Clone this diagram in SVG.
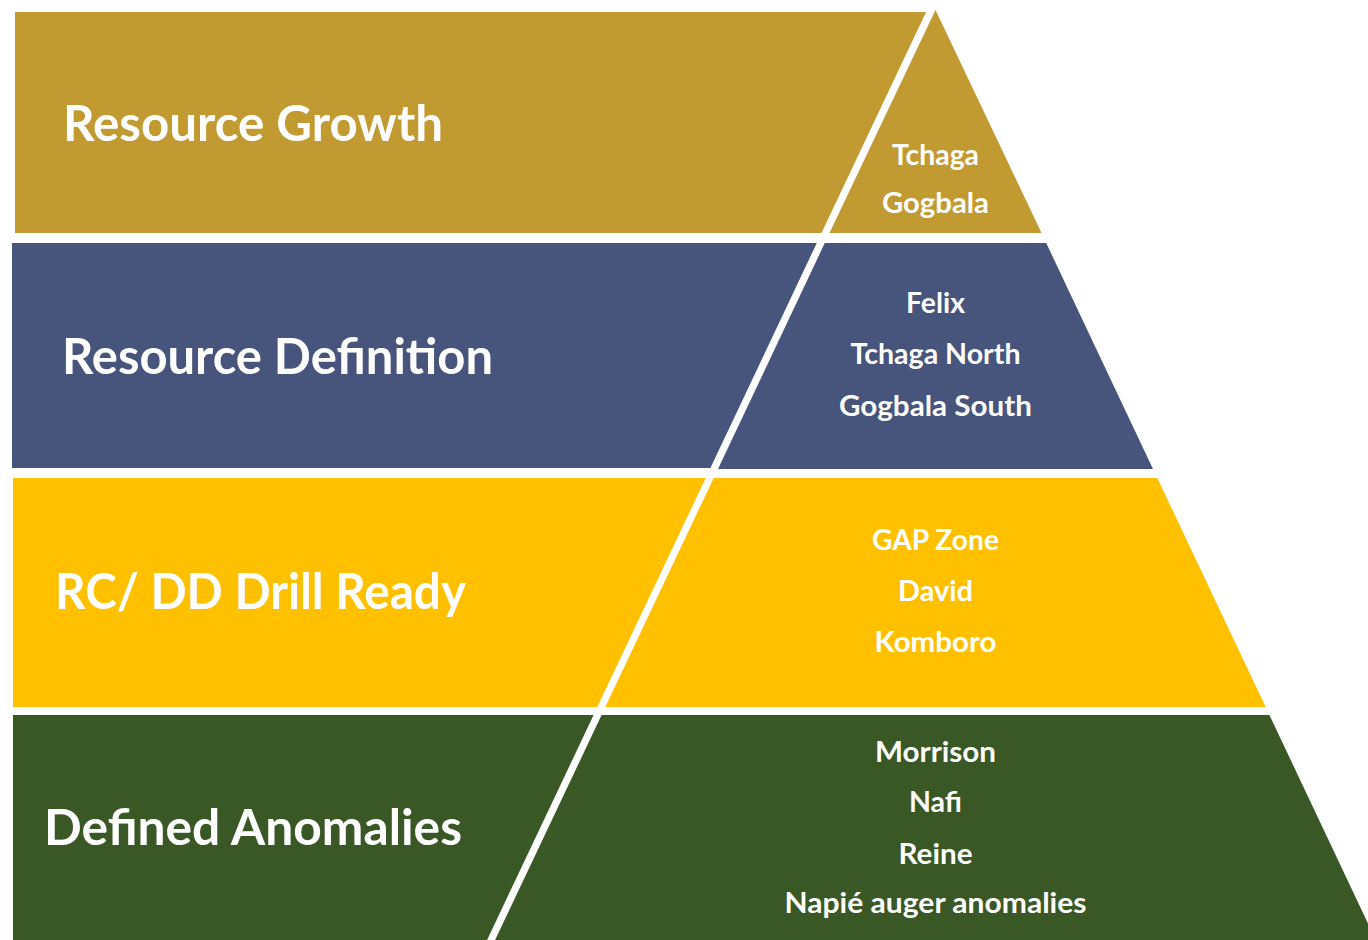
<svg xmlns="http://www.w3.org/2000/svg" width="1368" height="940" viewBox="0 0 1368 940">
  <style>
    .title { font-family: Lato, "Open Sans", "Liberation Sans", sans-serif; font-weight: 700; font-size: 50px; fill: #ffffff; }
    .item { font-family: Lato, "Open Sans", "Liberation Sans", sans-serif; font-weight: 700; font-size: 28px; fill: #ffffff; text-anchor: middle; }
    .gold { fill: #C29A32; }
    .blue { fill: #47547B; }
    .amber { fill: #FFC000; }
    .green { fill: #3A5726; }
  </style>
  <rect width="1368" height="940" fill="#ffffff"/>

  <!-- Tier 1: Resource Growth -->
  <g id="tier-resource-growth">
    <polygon class="gold" points="15,12 926.1,12 821.5,233 15,233"/>
    <polygon class="gold" points="935.5,10 1041.5,233 829.5,233"/>
    <text class="title" x="63" y="141" textLength="380" lengthAdjust="spacingAndGlyphs">Resource Growth</text>
    <text class="item" x="935.5" y="165" textLength="87" lengthAdjust="spacingAndGlyphs">Tchaga</text>
    <text class="item" x="935.5" y="213" textLength="107" lengthAdjust="spacingAndGlyphs">Gogbala</text>
  </g>

  <!-- Tier 2: Resource Definition -->
  <g id="tier-resource-definition">
    <polygon class="blue" points="12,243 816.8,243 710.4,468 12,468"/>
    <polygon class="blue" points="824.8,243 1046.2,243 1153,469 718,469"/>
    <text class="title" x="62" y="374" textLength="431" lengthAdjust="spacingAndGlyphs">Resource Definition</text>
    <text class="item" x="935.5" y="313" textLength="59" lengthAdjust="spacingAndGlyphs">Felix</text>
    <text class="item" x="935.5" y="364" textLength="170" lengthAdjust="spacingAndGlyphs">Tchaga North</text>
    <text class="item" x="935.5" y="416" textLength="193" lengthAdjust="spacingAndGlyphs">Gogbala South</text>
  </g>

  <!-- Tier 3: RC/ DD Drill Ready -->
  <g id="tier-drill-ready">
    <polygon class="amber" points="13,478 705.7,478 597.3,707 13,707"/>
    <polygon class="amber" points="713.7,478 1157.3,478 1265.7,707 605.3,707"/>
    <text class="title" x="55" y="609" textLength="411" lengthAdjust="spacingAndGlyphs">RC/ DD Drill Ready</text>
    <text class="item" x="935.5" y="550" textLength="127" lengthAdjust="spacingAndGlyphs">GAP Zone</text>
    <text class="item" x="935.5" y="601" textLength="75" lengthAdjust="spacingAndGlyphs">David</text>
    <text class="item" x="935.5" y="652" textLength="122" lengthAdjust="spacingAndGlyphs">Komboro</text>
  </g>

  <!-- Tier 4: Defined Anomalies -->
  <g id="tier-defined-anomalies">
    <polygon class="green" points="13,715 593.6,715 487.1,940 13,940"/>
    <polygon class="green" points="601.6,715 1269.4,715 1368,923.4 1368,940 495.1,940"/>
    <text class="title" x="44" y="845" textLength="418" lengthAdjust="spacingAndGlyphs">Defined Anomalies</text>
    <text class="item" x="935.5" y="762" textLength="121" lengthAdjust="spacingAndGlyphs">Morrison</text>
    <text class="item" x="935.5" y="812" textLength="53" lengthAdjust="spacingAndGlyphs">Nafi</text>
    <text class="item" x="935.5" y="864" textLength="74" lengthAdjust="spacingAndGlyphs">Reine</text>
    <text class="item" x="935.5" y="913" textLength="302" lengthAdjust="spacingAndGlyphs">Napié auger anomalies</text>
  </g>

  <!-- no connectors in this figure -->
  <g id="connectors"/>
</svg>
